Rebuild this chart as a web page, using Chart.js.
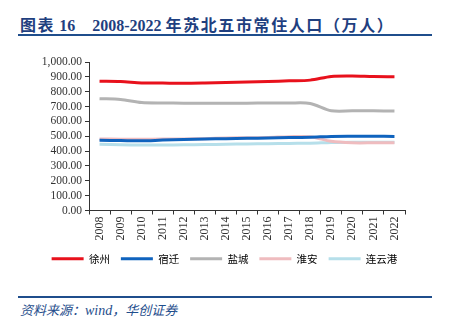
<!DOCTYPE html>
<html>
<head>
<meta charset="utf-8">
<script src="https://cdn.jsdelivr.net/npm/chart.js@4.4.0/dist/chart.umd.min.js"></script>
<style>
  html, body { margin: 0; padding: 0; background: #fff; }
  body { width: 449px; height: 324px; position: relative; overflow: hidden; }
  .title {
    position: absolute; left: 20px; top: 12px;
    font-family: "Liberation Serif", serif;
    font-weight: bold; font-size: 16px; color: #1f3f7f; white-space: nowrap;
  }
  .title .cn { font-family: "Noto Sans CJK SC", sans-serif; letter-spacing: 1.6px; }
  .rule { position: absolute; left: 18px; width: 414px; height: 2px; background: #1f4e8c; }
  .source {
    position: absolute; left: 20px; top: 300px;
    font-family: "Liberation Serif", serif;
    font-style: italic; font-size: 14px; color: #1f4e8c; white-space: nowrap;
  }
  .source .cn { font-family: "Noto Sans CJK SC", sans-serif; font-size: 13px; }
  #chart { position: absolute; left: 0; top: 0; }
</style>
</head>
<body>
<div class="title"><span class="cn">图表</span> 16<span style="display:inline-block;width:17px"></span>2008-2022 <span class="cn">年苏北五市常住人口（万人）</span></div>
<div class="rule" style="top:34px"></div>
<canvas id="chart" width="449" height="280"></canvas>
<div class="rule" style="top:296px"></div>
<div class="source"><span class="cn">资料来源：</span>wind<span class="cn">，华创证券</span></div>
<script>
// Years on the x axis
const years = ['2008', '2009', '2010', '2011', '2012', '2013', '2014', '2015',
  '2016', '2017', '2018', '2019', '2020', '2021', '2022'];

// Resident population, 10k people
const xuzhou = [870, 868, 859, 858, 857, 859, 862, 866, 869, 873, 878, 903, 906, 902, 901];
const suqian = [473, 471, 469, 474, 478, 481, 484, 486, 488, 491, 493, 499, 500, 500, 499];
const yancheng = [753, 748, 727, 724, 723, 723, 723, 723, 724, 724, 721, 672, 671, 671, 670];
const huaian = [482, 480, 480, 481, 482, 484, 488, 490, 492, 497, 497, 466, 456, 456, 457];
const lianyungang = [446, 443, 441, 441, 442, 444, 446, 448, 450, 452, 453, 458, 460, 460, 460];

const yTicks = [0, 100, 200, 300, 400, 500, 600, 700, 800, 900, 1000];

const serif = '"Liberation Serif", "Times New Roman", serif';
const cjk = '"Noto Sans CJK SC", sans-serif';

function series(label, data, color) {
  return {
    label: label,
    data: data,
    borderColor: color,
    backgroundColor: color,
    borderWidth: 3,
    pointRadius: 0,
    tension: 0.3,
    fill: false,
  };
}

new Chart(document.getElementById('chart').getContext('2d'), {
  type: 'line',
  data: {
    labels: years,
    datasets: [
      series('徐州', xuzhou, '#e8111c'),
      series('宿迁', suqian, '#0f63be'),
      series('盐城', yancheng, '#b3b3b3'),
      series('淮安', huaian, '#efbcbf'),
      series('连云港', lianyungang, '#b6dfea'),
    ],
  },
  options: {
    responsive: false,
    animation: false,
    layout: { padding: { top: 62, left: 0, right: 0, bottom: 6 } },
    plugins: {
      tooltip: { enabled: false },
      legend: {
        position: 'bottom',
        labels: {
          boxWidth: 32,
          boxHeight: 3,
          padding: 11,
          color: '#444',
          font: { family: cjk, size: 10.5 },
          generateLabels: (chart) => chart.data.datasets.map((ds, i) => ({
            text: ds.label,
            fillStyle: ds.borderColor,
            strokeStyle: ds.borderColor,
            lineWidth: 0,
            hidden: false,
            datasetIndex: i,
          })),
        },
      },
    },
    scales: {
      x: {
        offset: true,
        grid: { display: true, offset: true, drawOnChartArea: false, tickLength: 4, color: '#333' },
        border: { color: '#333' },
        ticks: {
          color: '#333',
          font: { family: serif, size: 12 },
          maxRotation: 90,
          minRotation: 90,
          autoSkip: false,
          padding: 2,
        },
        afterFit: (scale) => { scale.height = 32; },
      },
      y: {
        min: 0,
        max: 1000,
        afterBuildTicks: (scale) => { scale.ticks = yTicks.map(v => ({ value: v })); },
        grid: { display: true, drawOnChartArea: false, tickLength: 4, color: '#333' },
        border: { color: '#333' },
        ticks: {
          color: '#333',
          font: { family: serif, size: 11.5 },
          autoSkip: false,
          padding: 3,
          callback: (v) => v.toLocaleString('en-US', { minimumFractionDigits: 2, maximumFractionDigits: 2 }),
        },
        afterFit: (scale) => { scale.width = 89; },
      },
      spacer: {
        position: 'right',
        display: true,
        grid: { display: false },
        border: { display: false },
        ticks: { display: false },
        afterFit: (scale) => { scale.width = 44; },
      },
    },
  },
});
</script>
</body>
</html>
